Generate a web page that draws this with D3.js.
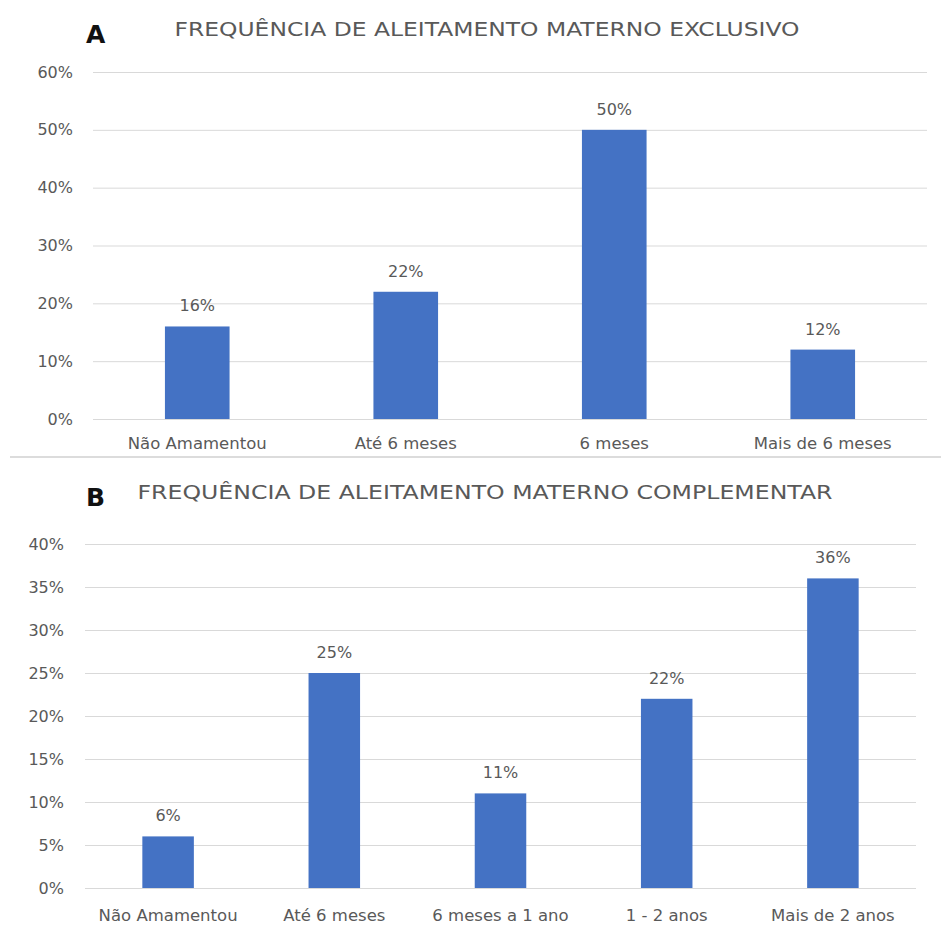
<!DOCTYPE html>
<html>
<head>
<meta charset="utf-8">
<script src="https://cdn.jsdelivr.net/npm/d3@7"></script>
<style>
  html, body { margin: 0; padding: 0; background: #fff; }
  svg { display: block; }
</style>
</head>
<body>
<svg id="chart" width="941" height="926"></svg>
<script>
// Panel A — exclusive breastfeeding
const catsA = ['Não Amamentou', 'Até 6 meses', '6 meses', 'Mais de 6 meses'];
const valsA = [16, 22, 50, 12];
const ticksA = [0, 10, 20, 30, 40, 50, 60];

// Panel B — complementary breastfeeding
const catsB = ['Não Amamentou', 'Até 6 meses', '6 meses a 1 ano', '1 - 2 anos', 'Mais de 2 anos'];
const valsB = [6, 25, 11, 22, 36];
const ticksB = [0, 5, 10, 15, 20, 25, 30, 35, 40];

const BAR = '#4472C4';
const TEXT = '#595959';
const GRID = '#d9d9d9';
const FONT = '"DejaVu Sans", sans-serif';

const svg = d3.select('#chart');

function panel({ letter, title, titleX, titleY, titleLen, letterY, cats, vals, ticks, x0, x1, y0, y1, labelX, xLabelY }) {
  const g = svg.append('g');
  const x = d3.scaleBand().domain(cats).range([x0, x1]).paddingInner(0.69).paddingOuter(0.345);
  const y = d3.scaleLinear().domain([0, d3.max(ticks)]).range([y0, y1]);

  // gridlines
  g.append('g')
    .attr('transform', `translate(${x0},0)`)
    .call(d3.axisLeft(y).tickValues(ticks).tickSize(-(x1 - x0)).tickFormat(() => ''))
    .call((a) => {
      a.select('.domain').remove();
      a.selectAll('.tick line').attr('stroke', GRID).attr('stroke-width', 1);
    });

  // y tick labels
  g.append('g')
    .attr('transform', `translate(${labelX},0)`)
    .call(d3.axisLeft(y).tickValues(ticks).tickSize(0).tickPadding(0).tickFormat((d) => d + '%'))
    .call((a) => {
      a.select('.domain').remove();
      a.selectAll('.tick text').attr('fill', TEXT).attr('font-size', '16px').attr('font-family', FONT);
    });

  // x labels
  g.append('g')
    .attr('transform', `translate(0,${y0})`)
    .call(d3.axisBottom(x).tickSize(0).tickPadding(xLabelY))
    .call((a) => {
      a.select('.domain').remove();
      a.selectAll('.tick text').attr('fill', TEXT).attr('font-size', '16.5px').attr('font-family', FONT);
    });

  // bars
  g.selectAll('rect.bar')
    .data(vals)
    .join('rect')
    .attr('class', 'bar')
    .attr('x', (d, i) => x(cats[i]))
    .attr('y', (d) => y(d))
    .attr('width', x.bandwidth())
    .attr('height', (d) => y(0) - y(d))
    .attr('fill', BAR);

  // value labels
  g.selectAll('text.val')
    .data(vals)
    .join('text')
    .attr('class', 'val')
    .attr('x', (d, i) => x(cats[i]) + x.bandwidth() / 2)
    .attr('y', (d) => y(d) - 15)
    .attr('text-anchor', 'middle')
    .attr('fill', TEXT)
    .attr('font-size', '16px')
    .attr('font-family', FONT)
    .text((d) => d + '%');

  // title
  g.append('text')
    .attr('x', titleX)
    .attr('y', titleY)
    .attr('text-anchor', 'middle')
    .attr('fill', TEXT)
    .attr('font-size', '19px')
    .attr('font-family', FONT)
    .attr('textLength', titleLen)
    .attr('lengthAdjust', 'spacingAndGlyphs')
    .text(title);

  g.append('text')
    .attr('x', 86)
    .attr('y', letterY)
    .attr('fill', '#111')
    .attr('font-size', '25px')
    .attr('font-weight', 'bold')
    .attr('font-family', FONT)
    .text(letter);
}

panel({
  letter: 'A', title: 'FREQUÊNCIA DE ALEITAMENTO MATERNO EXCLUSIVO',
  titleX: 487, titleY: 36, titleLen: 625, letterY: 43,
  cats: catsA, vals: valsA, ticks: ticksA,
  x0: 93, x1: 927, y0: 419, y1: 72, labelX: 73, xLabelY: 18,
});

// separator between panels
svg.append('line')
  .attr('x1', 10).attr('x2', 941).attr('y1', 457).attr('y2', 457)
  .attr('stroke', '#d0d0d0').attr('stroke-width', 1.5);

panel({
  letter: 'B', title: 'FREQUÊNCIA DE ALEITAMENTO MATERNO COMPLEMENTAR',
  titleX: 485, titleY: 499, titleLen: 695, letterY: 506,
  cats: catsB, vals: valsB, ticks: ticksB,
  x0: 85, x1: 916, y0: 888, y1: 544, labelX: 64, xLabelY: 21,
});
</script>
</body>
</html>
